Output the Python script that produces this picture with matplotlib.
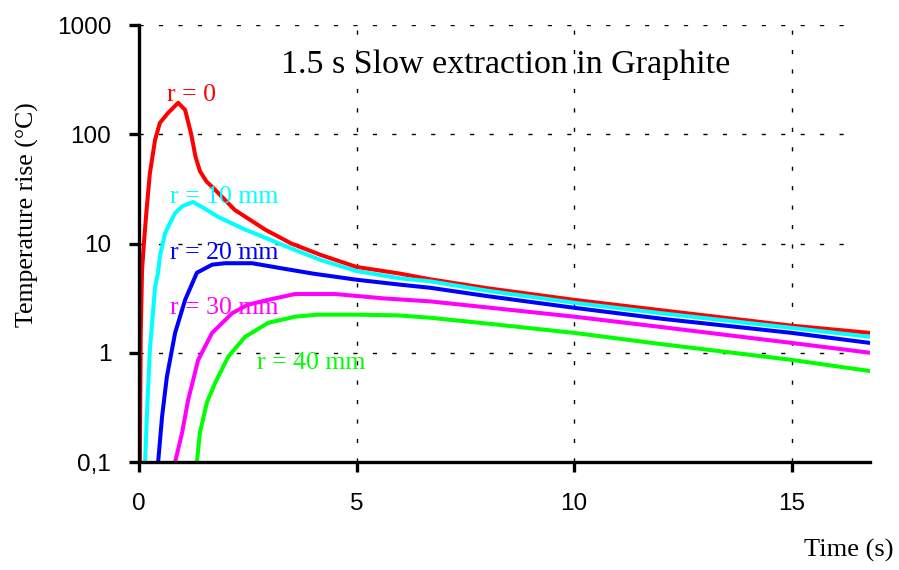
import matplotlib
matplotlib.use("Agg")
import matplotlib.pyplot as plt
import matplotlib.ticker as mticker

# ---- data ----
t_r0 = [0.02, 0.04, 0.07, 0.12, 0.18, 0.25, 0.37, 0.48, 0.67, 0.9, 1.06, 1.2, 1.3, 1.4, 1.55, 1.75,
        2.2, 2.9, 3.5, 4.2, 5.0, 6.0, 6.7, 8.0, 10.0, 12.0, 15.0, 16.8]
y_r0 = [0.1, 1.5, 5.7, 11.0, 21.7, 44, 89, 127, 157, 194, 167, 100, 62, 46, 37, 31,
        20.3, 13.4, 10.0, 7.8, 6.1, 5.3, 4.7, 3.9, 3.05, 2.45, 1.77, 1.52]

t_r10 = [0.14, 0.18, 0.25, 0.37, 0.44, 0.48, 0.6, 0.83, 1.0, 1.24, 1.5, 1.82, 2.44, 2.9, 3.5, 4.2,
         5.0, 6.0, 6.7, 8.0, 10.0, 12.0, 15.0, 16.8]
y_r10 = [0.1, 0.26, 1.07, 4.0, 5.5, 7.6, 12.5, 19, 22, 24, 21, 17.5, 13.4, 11.3, 9.0, 7.0,
         5.6, 4.8, 4.5, 3.7, 2.87, 2.3, 1.69, 1.40]

t_r20 = [0.44, 0.53, 0.64, 0.83, 1.06, 1.33, 1.68, 1.98, 2.6, 3.2, 4.0, 5.0, 6.0, 6.7, 8.0,
         10.0, 12.0, 15.0, 16.8]
y_r20 = [0.1, 0.26, 0.6, 1.52, 3.05, 5.4, 6.4, 6.6, 6.6, 6.0, 5.3, 4.66, 4.2, 3.93, 3.3,
         2.58, 2.05, 1.52, 1.23]

t_r30 = [0.83, 0.99, 1.13, 1.36, 1.68, 2.14, 2.5, 2.97, 3.59, 4.5, 5.6, 6.7, 8.0, 10.0,
         12.0, 15.0, 16.8]
y_r30 = [0.1, 0.185, 0.37, 0.86, 1.52, 2.3, 2.75, 3.05, 3.45, 3.45, 3.15, 2.95, 2.6, 2.14,
         1.72, 1.23, 1.0]

t_r40 = [1.33, 1.4, 1.56, 1.75, 2.05, 2.44, 2.97, 3.59, 4.1, 5.0, 5.93, 6.7, 8.0, 10.0,
         12.0, 15.0, 16.8]
y_r40 = [0.1, 0.185, 0.35, 0.53, 0.92, 1.4, 1.88, 2.14, 2.23, 2.23, 2.2, 2.09, 1.85, 1.52,
         1.2, 0.86, 0.68]

labels = ["r = 0", "r = 10 mm", "r = 20 mm", "r = 30 mm", "r = 40 mm"]
label_t = [0.64, 0.71, 0.71, 0.71, 2.71]
label_y = [230, 26.5, 8.2, 2.55, 0.80]
colors = ["#ff0000", "#00ffff", "#0000ff", "#ff00ff", "#00ff00"]

x_ticks = [0, 5, 10, 15]
y_ticks = [0.1, 1, 10, 100, 1000]
y_tick_labels = ["0,1", "1", "10", "100", "1000"]

fig = plt.figure(figsize=(8.99, 5.70), dpi=100)
ax = fig.add_axes([139/899, 1-462/570, (870-139)/899, (462-25)/570])

ax.set_yscale("log")
ax.set_xlim(0, 16.8)
ax.set_ylim(0.1, 1000)

# grid
for xv in [5, 10, 15]:
    ax.axvline(xv, color="black", lw=1.0, ls=(0, (3, 11)), zorder=0)
for yv in [1, 10, 100, 1000]:
    ax.plot([0, 16.45], [yv, yv], color="black", lw=1.0, ls=(0, (3, 11)), zorder=0)

curves = [(t_r0, y_r0), (t_r10, y_r10), (t_r20, y_r20), (t_r30, y_r30), (t_r40, y_r40)]
for (t, y), c, lab, lt, ly in zip(curves, colors, labels, label_t, label_y):
    ax.plot(t, y, color=c, lw=2.9)
    ax.text(lt, ly, lab, color=c, family="Liberation Serif", fontsize=18.5,
            ha="left", va="center")

for s in ["top", "right"]:
    ax.spines[s].set_visible(False)
for s in ["left", "bottom"]:
    ax.spines[s].set_linewidth(2.4)

ax.set_xticks(x_ticks)
ax.set_xticklabels([str(v) for v in x_ticks], family="Liberation Sans", fontsize=17.5)
ax.set_yticks(y_ticks)
ax.set_yticklabels(y_tick_labels, family="Liberation Sans", fontsize=17.5)
ax.yaxis.set_minor_locator(mticker.NullLocator())
ax.tick_params(axis="both", which="major", direction="out", width=2.4, length=7)
ax.tick_params(axis="y", pad=13)
ax.tick_params(axis="x", pad=15)

ax.text(0.502, 0.908, "1.5 s Slow extraction in Graphite", transform=ax.transAxes,
        family="Liberation Serif", fontsize=24.5, ha="center", va="center")
fig.text(27/899, 1-215/570, "Temperature rise (°C)", rotation=90, family="Liberation Serif",
         fontsize=18.5, ha="center", va="center")
fig.text(894/899, 1-550/570, "Time (s)", family="Liberation Serif", fontsize=19,
         ha="right", va="center")

fig.savefig("out.png", dpi=100)
